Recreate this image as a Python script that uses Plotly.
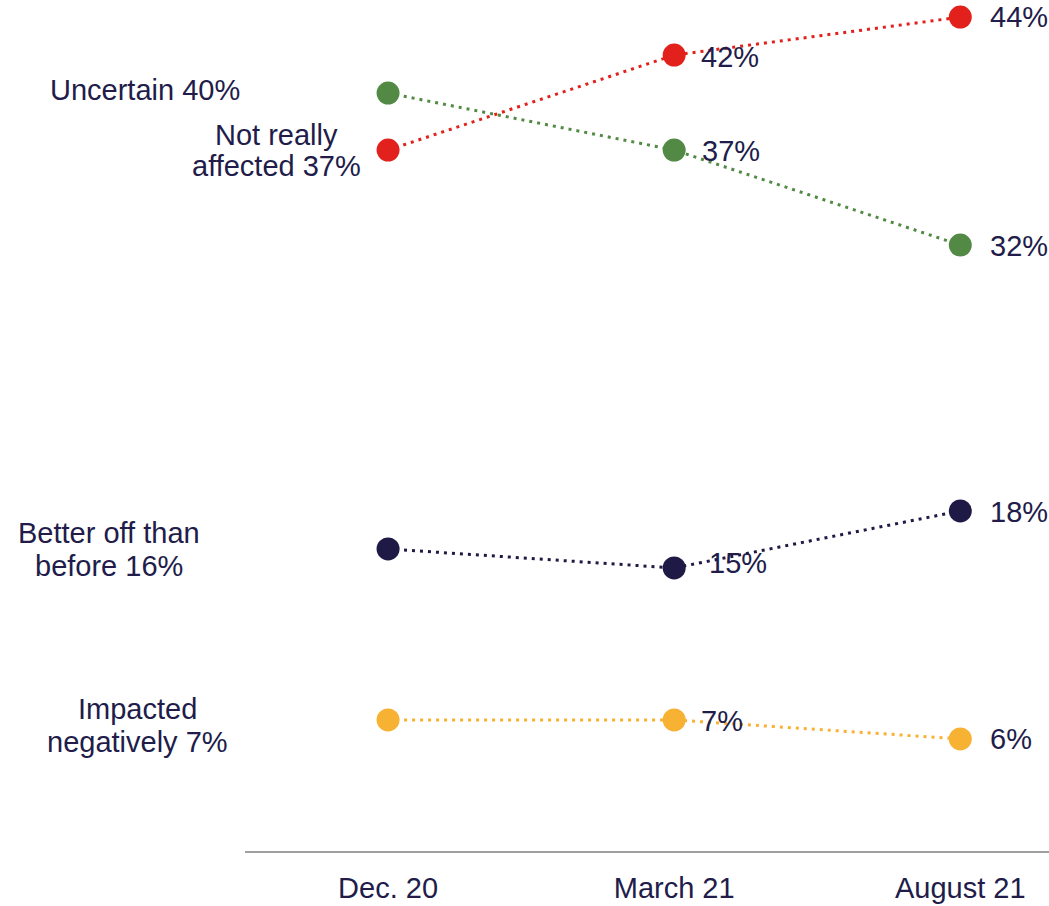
import plotly.graph_objects as go

# Survey waves and the share of respondents in each group (%)
waves = ["Dec. 20", "March 21", "August 21"]
not_really_affected = [37, 42, 44]
uncertain = [40, 37, 32]
better_off = [16, 15, 18]
impacted_negatively = [7, 7, 6]

series_names = ["Not really affected", "Uncertain", "Better off than before", "Impacted negatively"]
series_values = [not_really_affected, uncertain, better_off, impacted_negatively]
series_colors = ["#e2211c", "#528a45", "#1f1a45", "#f8b233"]

# Left-hand captions, one entry per text line
left_captions = [
    ["Not really", "affected 37%"],
    ["Uncertain 40%"],
    ["Better off than", "before 16%"],
    ["Impacted", "negatively 7%"],
]

TEXT = "#211c4a"
FONT = "Liberation Sans, Arial, sans-serif"
x_idx = list(range(len(waves)))

fig = go.Figure()
for name, vals, col in zip(series_names, series_values, series_colors):
    fig.add_trace(go.Scatter(
        x=x_idx, y=vals, name=name, mode="lines+markers",
        line=dict(color=col, width=3, dash="3px,5px"),
        marker=dict(color=col, size=23),
        cliponaxis=False, showlegend=False, hoverinfo="skip",
    ))

annotations = []

# Caption placement beside the first point: (x offset of text centre, y offsets per line)
caption_layout = [
    (-112, [15, -16]),
    (-243, [3]),
    (-279, [16, -17]),
    (-251, [11, -22]),
]
for vals, lines, (dx, dys) in zip(series_values, left_captions, caption_layout):
    for line, dy in zip(lines, dys):
        annotations.append(dict(
            x=0, y=vals[0], xref="x", yref="y", text=line, showarrow=False,
            xanchor="center", yanchor="middle", xshift=dx, yshift=dy,
            font=dict(family=FONT, size=29, color=TEXT),
        ))

# Value labels to the right of the later points
value_label_offsets = {
    (0, 1): (25, -2), (0, 2): (28, 0),
    (1, 1): (26, -1), (1, 2): (28, -1),
    (2, 1): (33, 5), (2, 2): (28, -1),
    (3, 1): (25, -1), (3, 2): (28, 0),
}
for s, vals in enumerate(series_values):
    for i in (1, 2):
        dx, dy = value_label_offsets[(s, i)]
        annotations.append(dict(
            x=i, y=vals[i], xref="x", yref="y", text=f"{vals[i]}%", showarrow=False,
            xanchor="left", yanchor="middle", xshift=dx, yshift=dy,
            font=dict(family=FONT, size=29, color=TEXT),
        ))

fig.update_layout(
    width=1049, height=906,
    margin=dict(l=245, r=0, t=0, b=55),
    paper_bgcolor="white", plot_bgcolor="white",
    annotations=annotations,
    xaxis=dict(
        range=[-0.5, 2.31], tickmode="array", tickvals=x_idx, ticktext=waves,
        showgrid=False, zeroline=False, showline=True, linecolor="#a0a0a0", linewidth=1.5,
        ticks="", tickfont=dict(family=FONT, size=29, color=TEXT), ticklabelstandoff=10,
    ),
    yaxis=dict(range=[0.1, 44.9], visible=False, showgrid=False, zeroline=False),
)

fig.write_html("out.html")
